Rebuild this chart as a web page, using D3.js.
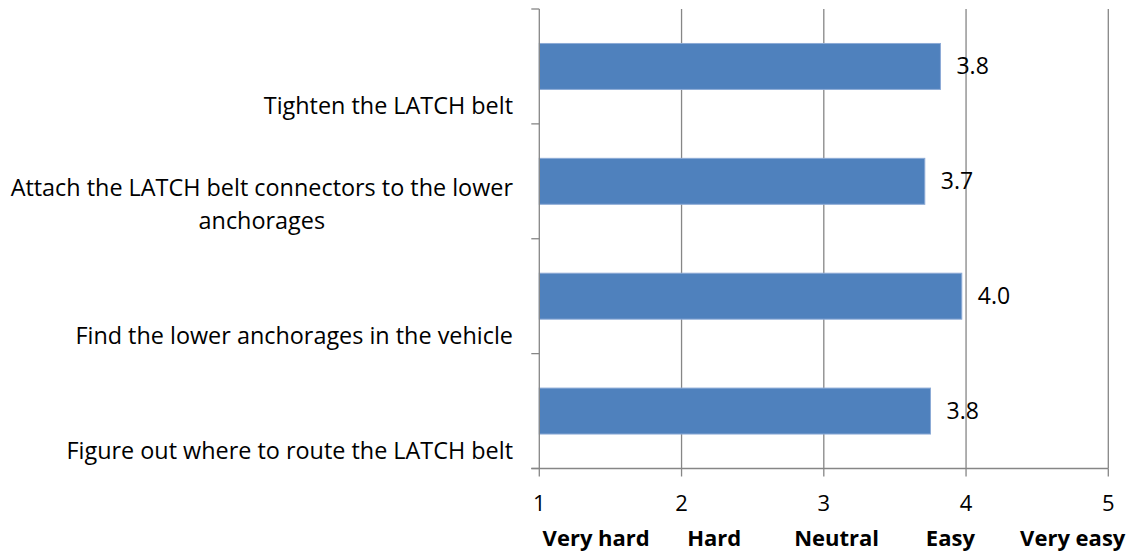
<!DOCTYPE html>
<html>
<head>
<meta charset="utf-8">
<script src="https://cdn.jsdelivr.net/npm/d3@7"></script>
<style>
  html, body { margin: 0; padding: 0; background: #fff; }
  svg { display: block; }
  text { font-family: "Open Sans", Lato, sans-serif; fill: #000; }
</style>
</head>
<body>
<svg id="chart" width="1138" height="552"></svg>
<script>
// ---- data ----
const categories = [
  ["Tighten the LATCH belt"],
  ["Attach the LATCH belt connectors to the lower", "anchorages"],
  ["Find the lower anchorages in the vehicle"],
  ["Figure out where to route the LATCH belt"]
];
const values = [3.82, 3.71, 3.97, 3.75];
const valueLabels = ["3.8", "3.7", "4.0", "3.8"];
const tickValues = [1, 2, 3, 4, 5];
const scaleLabels = ["Very hard", "Hard", "Neutral", "Easy", "Very easy"];
const scaleLabelAt = [1.40, 2.23, 3.09, 3.89, 4.75];

// ---- layout ----
const plotLeft = 539.3, plotRight = 1108.3, plotTop = 9, plotBottom = 468.5;
const svg = d3.select("#chart");
const x = d3.scaleLinear().domain([1, 5]).range([plotLeft, plotRight]);
const y = d3.scaleBand().domain(d3.range(categories.length)).range([plotTop, plotBottom])
  .paddingInner(0.6).paddingOuter(0.3);
const band = d3.scaleBand().domain(d3.range(categories.length)).range([plotTop, plotBottom]);
const grey = "#868686";
const fs = 23.4;

// gridlines
svg.append("g").selectAll("line").data(tickValues.slice(1)).join("line")
  .attr("x1", d => x(d)).attr("x2", d => x(d))
  .attr("y1", plotTop).attr("y2", plotBottom)
  .attr("stroke", grey).attr("stroke-width", 1.3);

// bars
svg.append("g").selectAll("rect").data(values).join("rect")
  .attr("x", x(1)).attr("y", (d, i) => y(i))
  .attr("width", d => x(d) - x(1)).attr("height", y.bandwidth())
  .attr("fill", "#4F81BD").attr("stroke", "#8CAAD6").attr("stroke-width", 1);

// y axis
const yAxisG = svg.append("g");
yAxisG.append("line").attr("x1", plotLeft).attr("x2", plotLeft).attr("y1", plotTop).attr("y2", plotBottom)
  .attr("stroke", grey).attr("stroke-width", 1.3);
yAxisG.selectAll("line.tk").data(d3.range(categories.length + 1)).join("line").attr("class", "tk")
  .attr("x1", plotLeft - 8).attr("x2", plotLeft)
  .attr("y1", i => i < categories.length ? band(i) : plotBottom)
  .attr("y2", i => i < categories.length ? band(i) : plotBottom)
  .attr("stroke", grey).attr("stroke-width", 1.3);

// x axis
const xAxisG = svg.append("g");
xAxisG.append("line").attr("x1", plotLeft - 8).attr("x2", plotRight).attr("y1", plotBottom).attr("y2", plotBottom)
  .attr("stroke", grey).attr("stroke-width", 1.3);
xAxisG.selectAll("line.tk").data(tickValues).join("line").attr("class", "tk")
  .attr("x1", d => x(d)).attr("x2", d => x(d)).attr("y1", plotBottom).attr("y2", plotBottom + 8)
  .attr("stroke", grey).attr("stroke-width", 1.3);
xAxisG.selectAll("text").data(tickValues).join("text")
  .attr("x", d => x(d)).attr("y", 511).attr("text-anchor", "middle")
  .attr("font-size", 22).text(d => d);

// scale labels (bold)
svg.append("g").selectAll("text").data(scaleLabels).join("text")
  .attr("x", (d, i) => x(scaleLabelAt[i])).attr("y", 546).attr("text-anchor", "middle")
  .attr("font-size", 22).attr("font-weight", "bold").text(d => d);

// category labels
const catG = svg.append("g");
categories.forEach((lines, i) => {
  const c = band(i) + band.bandwidth() / 2;
  const t = catG.append("text").attr("text-anchor", "middle").attr("font-size", fs);
  const n = lines.length;
  lines.forEach((ln, j) => {
    t.append("tspan").attr("y", c + 47.7 - (n - 1 - j) * 33).text(ln);
  });
  let maxW = 0;
  t.selectAll("tspan").each(function () { maxW = Math.max(maxW, this.getComputedTextLength()); });
  t.selectAll("tspan").attr("x", 513 - maxW / 2);
});

// value labels
svg.append("g").selectAll("text").data(values).join("text")
  .attr("x", d => x(d) + 16).attr("y", (d, i) => y(i) + y.bandwidth() / 2 + 8)
  .attr("font-size", 23).text((d, i) => valueLabels[i]);
</script>
</body>
</html>
